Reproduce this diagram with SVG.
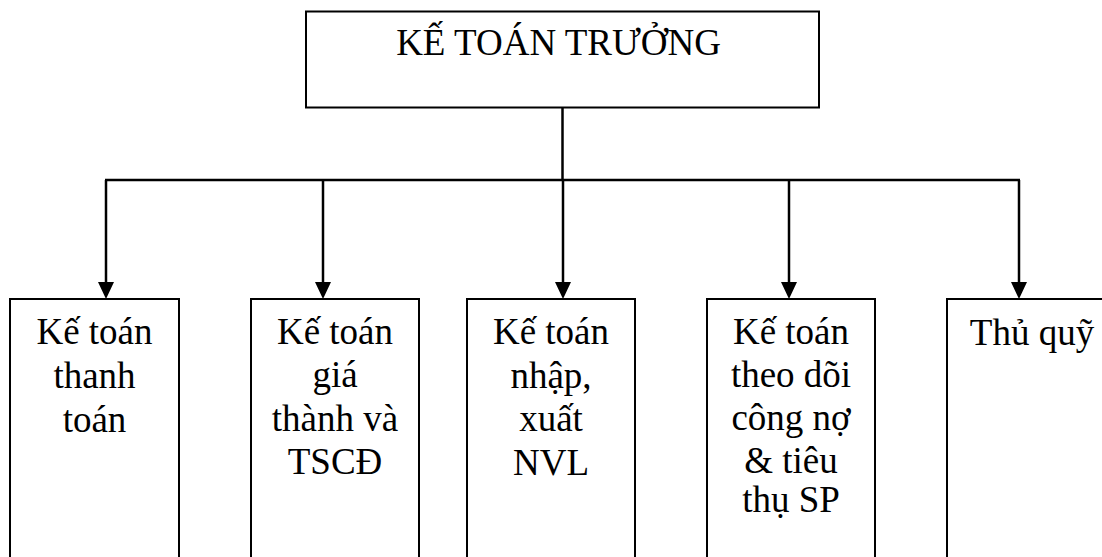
<svg xmlns="http://www.w3.org/2000/svg" width="1102" height="557" viewBox="0 0 1102 557">
<style>
.box{fill:#fff;stroke:#000;stroke-width:2}
.t{font-family:"Liberation Serif","Times New Roman",serif;font-size:37px;fill:#000;text-anchor:middle}
.ln{stroke:#000;stroke-width:2.5;fill:none}
</style>
<rect width="1102" height="557" fill="#fff"/>
<g id="connectors">
<line class="ln" x1="562.5" y1="107" x2="562.5" y2="180"/>
<line class="ln" x1="105" y1="180" x2="1020" y2="180"/>
<line class="ln" x1="106" y1="180" x2="106" y2="282"/>
<line class="ln" x1="323" y1="180" x2="323" y2="282"/>
<line class="ln" x1="563" y1="180" x2="563" y2="282"/>
<line class="ln" x1="789" y1="180" x2="789" y2="282"/>
<line class="ln" x1="1019" y1="180" x2="1019" y2="282"/>
<path d="M98,282 L114,282 L106,299 Z M315,282 L331,282 L323,299 Z M555,282 L571,282 L563,299 Z M781,282 L797,282 L789,299 Z M1011,282 L1027,282 L1019,299 Z" fill="#000"/>
</g>
<g id="ke-toan-truong">
<rect class="box" x="306" y="11.5" width="513" height="96"/>
<text class="t" x="558.5" y="55">KẾ TOÁN TRƯỞNG</text>
</g>
<g id="kt-thanh-toan">
<rect class="box" x="10" y="299" width="169" height="270"/>
<text class="t" x="94.5" y="344">Kế toán</text>
<text class="t" x="94.5" y="387.5">thanh</text>
<text class="t" x="94.5" y="431.5">toán</text>
</g>
<g id="kt-gia-thanh">
<rect class="box" x="251" y="299" width="168" height="270"/>
<text class="t" x="335" y="343.5">Kế toán</text>
<text class="t" x="335" y="387">giá</text>
<text class="t" x="335" y="430.5">thành và</text>
<text class="t" x="335" y="474">TSCĐ</text>
</g>
<g id="kt-nhap-xuat">
<rect class="box" x="467" y="299" width="168" height="270"/>
<text class="t" x="551" y="344">Kế toán</text>
<text class="t" x="551" y="387.5">nhập,</text>
<text class="t" x="551" y="431">xuất</text>
<text class="t" x="551" y="474.5">NVL</text>
</g>
<g id="kt-cong-no">
<rect class="box" x="707" y="299" width="168" height="270"/>
<text class="t" x="791" y="344">Kế toán</text>
<text class="t" x="791" y="387">theo dõi</text>
<text class="t" x="791" y="430">công nợ</text>
<text class="t" x="791" y="472.5">&amp; tiêu</text>
<text class="t" x="791" y="512">thụ SP</text>
</g>
<g id="thu-quy">
<rect class="box" x="947" y="299" width="170" height="270"/>
<text class="t" x="1032" y="345">Thủ quỹ</text>
</g>
</svg>
